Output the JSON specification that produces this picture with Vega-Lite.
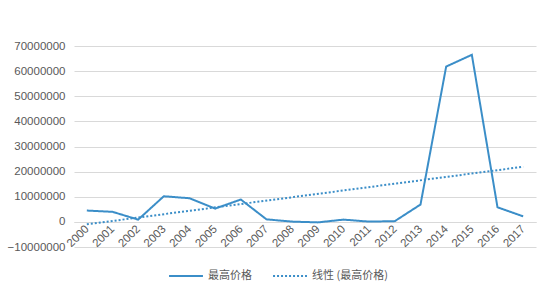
{
  "$schema": "https://vega.github.io/schema/vega-lite/v6.json",
  "autosize": {"type": "none"},
  "width": 462,
  "height": 201,
  "padding": {"left": 74, "top": 46, "right": 14, "bottom": 46},
  "background": "white",
  "data": {
    "values": [
      {"year": 2000, "price": 4500000},
      {"year": 2001, "price": 4000000},
      {"year": 2002, "price": 900000},
      {"year": 2003, "price": 10200000},
      {"year": 2004, "price": 9400000},
      {"year": 2005, "price": 5300000},
      {"year": 2006, "price": 8900000},
      {"year": 2007, "price": 1000000},
      {"year": 2008, "price": 100000},
      {"year": 2009, "price": -200000},
      {"year": 2010, "price": 900000},
      {"year": 2011, "price": 100000},
      {"year": 2012, "price": 300000},
      {"year": 2013, "price": 6900000},
      {"year": 2014, "price": 61800000},
      {"year": 2015, "price": 66500000},
      {"year": 2016, "price": 5800000},
      {"year": 2017, "price": 2200000}
    ]
  },
  "encoding": {
    "x": {
      "field": "year",
      "type": "ordinal",
      "scale": {"type": "point", "padding": 0.5},
      "axis": {
        "title": null,
        "labelAngle": -45,
        "labelAlign": "right",
        "labelBaseline": "middle",
        "labelFont": "Liberation Sans",
        "labelFontSize": 11.5,
        "labelColor": "#595959",
        "ticks": false,
        "domain": true,
        "domainColor": "#d9d9d9",
        "labelPadding": 5,
        "offset": -25,
        "grid": false
      }
    },
    "y": {
      "field": "price",
      "type": "quantitative",
      "scale": {"domain": [-10000000, 70000000], "nice": false, "zero": false},
      "axis": {
        "title": null,
        "values": [-10000000, 0, 10000000, 20000000, 30000000, 40000000, 50000000, 60000000, 70000000],
        "format": "d",
        "labelFont": "Liberation Sans",
        "labelFontSize": 11.5,
        "labelColor": "#595959",
        "ticks": false,
        "domain": false,
        "labelPadding": 9,
        "gridColor": "#d9d9d9",
        "gridWidth": 1
      }
    }
  },
  "layer": [
    {
      "mark": {"type": "line", "color": "#3b8ec8", "strokeWidth": 2},
      "encoding": {
        "strokeDash": {
          "datum": "最高价格",
          "scale": {"domain": ["最高价格", "线性 (最高价格)"], "range": [[1, 0], [2, 2]]}
        }
      }
    },
    {
      "transform": [{"regression": "price", "on": "year", "method": "linear"}],
      "mark": {"type": "line", "color": "#3b8ec8", "strokeWidth": 2},
      "encoding": {
        "strokeDash": {"datum": "线性 (最高价格)"}
      }
    }
  ],
  "resolve": {"scale": {"strokeDash": "shared"}},
  "config": {
    "view": {"stroke": null},
    "legend": {
      "orient": "none",
      "legendX": 94,
      "legendY": 212,
      "direction": "horizontal",
      "title": null,
      "symbolType": "stroke",
      "symbolStrokeColor": "#3b8ec8",
      "symbolStrokeWidth": 2,
      "symbolSize": 1150,
      "labelFont": "Noto Sans CJK SC",
      "labelFontSize": 11,
      "labelColor": "#595959",
      "columnPadding": 17,
      "labelOffset": 4
    }
  }
}
